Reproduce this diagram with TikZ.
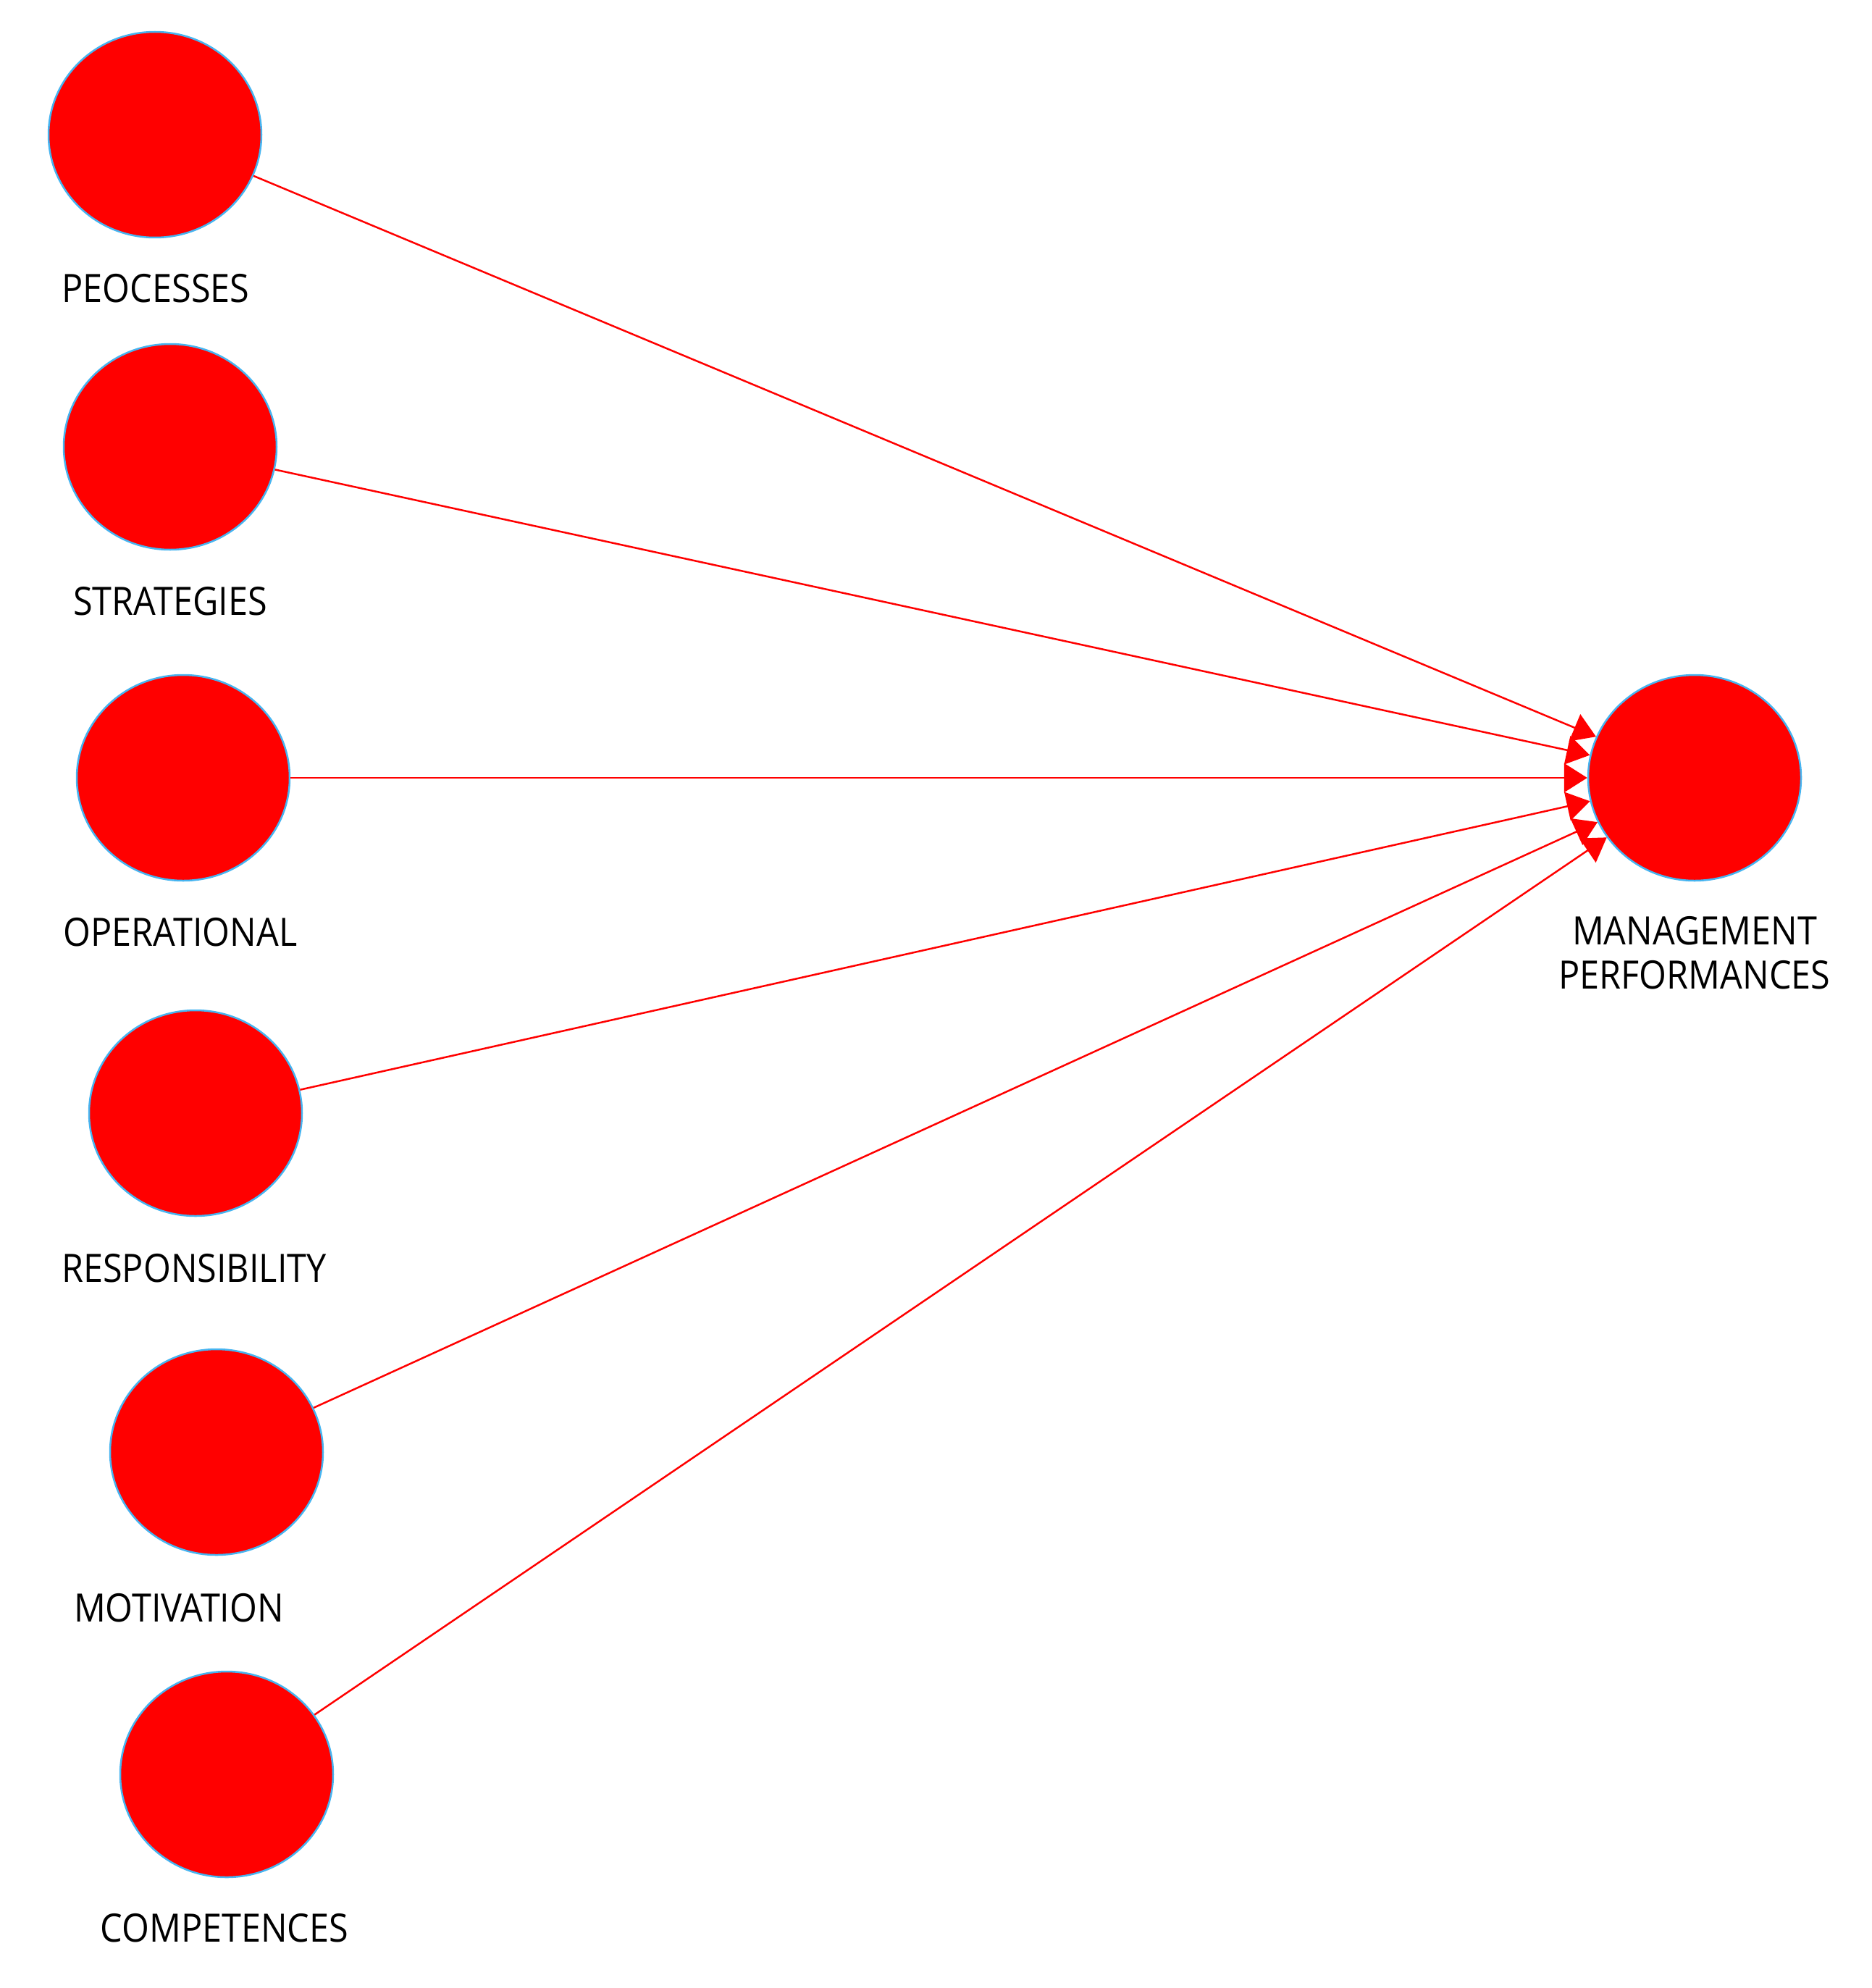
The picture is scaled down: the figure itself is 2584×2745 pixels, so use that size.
\documentclass[tikz,border=0pt]{standalone}
\usepackage{fontspec}
\setmainfont{Open Sans}[FakeStretch=0.9]
\usetikzlibrary{shapes.geometric,arrows.meta}
\definecolor{nodered}{RGB}{255,0,0}
\definecolor{rimblue}{RGB}{70,180,240}
\begin{document}
\begin{tikzpicture}[x=1pt,y=-1pt,
  latent/.style={ellipse,fill=nodered,draw=rimblue,line width=2.5pt,minimum width=294pt,minimum height=284pt,inner sep=0pt},
  lab/.style={inner sep=0pt,font=\fontsize{54}{61}\selectfont,text=black,align=center},
  path/.style={draw=nodered,line width=2.5pt,-{Triangle[length=32pt,width=40pt]}}]
\useasboundingbox (0,0) rectangle (2584,2745);
\node[latent] (p) at (214,186) {};
\node[latent] (s) at (235,617) {};
\node[latent] (o) at (253,1074) {};
\node[latent] (r) at (270,1537) {};
\node[latent] (m) at (299,2005) {};
\node[latent] (c) at (313,2450) {};
\node[latent] (mp) at (2340,1074) {};
\node[lab] (lp) at (215,398) {PEOCESSES};
\node[lab] (ls) at (235,830) {STRATEGIES};
\node[lab] (lo) at (249,1287) {OPERATIONAL};
\node[lab] (lr) at (268,1751) {RESPONSIBILITY};
\node[lab] (lm) at (247,2220) {MOTIVATION};
\node[lab] (lc) at (310,2662) {COMPETENCES};
\node[lab] (lmp) at (2340,1316) {MANAGEMENT\\PERFORMANCES};
\draw[path] (p) -- (mp);
\draw[path] (s) -- (mp);
\draw[path] (o) -- (mp);
\draw[path] (r) -- (mp);
\draw[path] (m) -- (mp);
\draw[path] (c) -- (mp);
\end{tikzpicture}
\end{document}
